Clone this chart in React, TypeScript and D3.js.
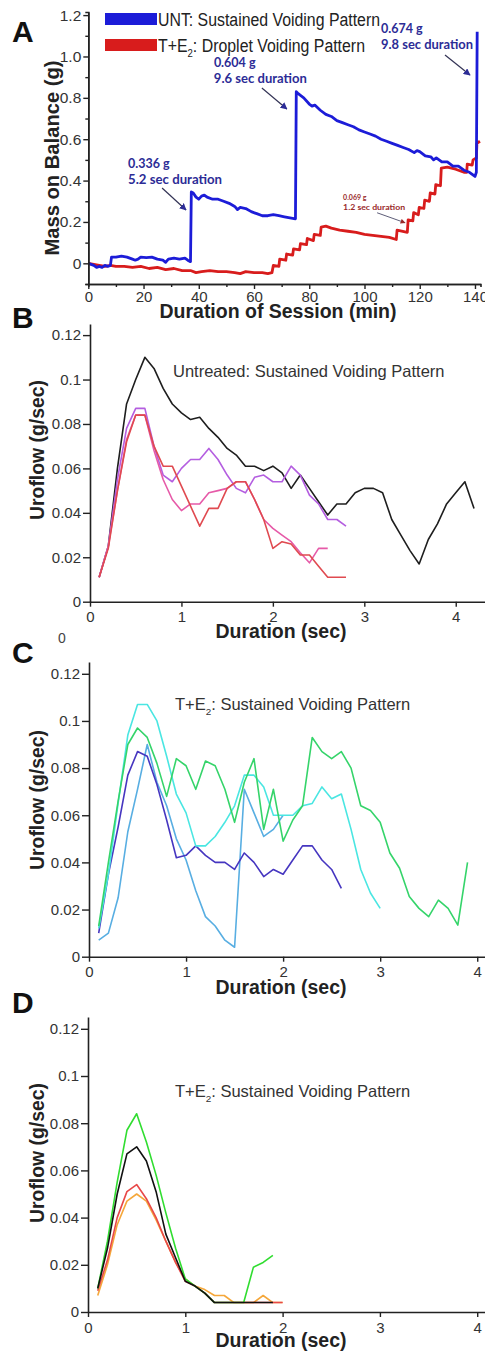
import React, { useRef, useEffect } from "react";
import * as d3 from "d3";

// ---------- panel A : mass on the balance during the session ----------
// [minute, grams]
const untMass: [number, number][] = [
  [0, 0.0], [1, -0.005], [2, -0.01], [3, -0.02], [4, -0.015], [5, -0.02], [6, -0.01], [7, -0.015],
  [8, -0.01], [8.4, 0.03], [10, 0.03], [12, 0.035], [14, 0.03], [16, 0.02], [17, 0.015], [18, 0.02],
  [19, 0.03], [21, 0.028], [23, 0.03], [25, 0.02], [27, 0.015], [28, 0.005], [29, 0.02], [31, 0.025],
  [33, 0.02], [35, 0.025], [36, 0.015], [37, 0.008], [37.3, 0.345], [38, 0.34], [39, 0.32], [40, 0.31],
  [41, 0.325], [42, 0.33], [43, 0.32], [45, 0.31], [47, 0.31], [49, 0.3], [51, 0.29], [53, 0.275],
  [54, 0.26], [55, 0.27], [57, 0.265], [59, 0.25], [61, 0.24], [63, 0.23], [65, 0.23], [67, 0.235],
  [69, 0.23], [71, 0.225], [73, 0.22], [75, 0.215], [75.3, 0.83], [76, 0.82], [78, 0.8], [80, 0.77],
  [81, 0.76], [82, 0.765], [84, 0.74], [86, 0.72], [88, 0.71], [90, 0.69], [92, 0.68], [94, 0.67],
  [96, 0.66], [98, 0.645], [100, 0.635], [102, 0.625], [104, 0.615], [106, 0.6], [108, 0.59],
  [110, 0.58], [112, 0.57], [114, 0.56], [116, 0.55], [118, 0.535], [119, 0.545], [120, 0.54],
  [122, 0.52], [124, 0.515], [125, 0.5], [126, 0.51], [128, 0.49], [130, 0.49], [132, 0.47],
  [134, 0.47], [136, 0.45], [138, 0.44], [139, 0.43], [140, 0.42], [140.5, 0.44], [140.8, 1.12],
];
const teMass: [number, number][] = [
  [0, 0.0], [2, -0.005], [4, -0.01], [6, -0.015], [8, -0.01], [10, -0.015], [13, -0.015], [16, -0.02],
  [19, -0.015], [22, -0.025], [25, -0.02], [28, -0.03], [31, -0.025], [34, -0.035], [37, -0.035],
  [39, -0.045], [41, -0.04], [44, -0.035], [47, -0.04], [50, -0.04], [53, -0.045], [55, -0.05],
  [57, -0.04], [60, -0.045], [63, -0.045], [65, -0.05], [66.5, -0.045], [67, -0.01], [69, -0.015],
  [69.3, 0.02], [71.5, 0.015], [71.8, 0.045], [74, 0.04], [74.3, 0.07], [76.5, 0.065], [76.8, 0.095],
  [79, 0.09], [79.3, 0.12], [81.5, 0.11], [81.8, 0.14], [84, 0.135], [84.3, 0.175], [86, 0.18],
  [88, 0.17], [91, 0.16], [94, 0.155], [97, 0.15], [100, 0.14], [103, 0.135], [106, 0.13],
  [109, 0.125], [111.5, 0.115], [111.8, 0.16], [115.5, 0.15], [115.8, 0.21], [117.5, 0.205],
  [117.8, 0.245], [119.5, 0.235], [119.8, 0.27], [121.5, 0.265], [121.8, 0.305], [123.5, 0.3],
  [123.8, 0.34], [125.5, 0.335], [125.8, 0.38], [127.5, 0.375], [127.8, 0.46], [130, 0.465],
  [133, 0.455], [136, 0.44], [137, 0.44], [137.2, 0.48], [139, 0.475], [139.3, 0.5], [140.5, 0.51],
  [140.7, 0.58], [141.8, 0.59],
];
const massTicks = [0, 0.2, 0.4, 0.6, 0.8, 1.0, 1.2];
const massMinorTicks = [-0.1, 0.1, 0.3, 0.5, 0.7, 0.9, 1.1];
const sessionTicks = [0, 20, 40, 60, 80, 100, 120, 140];
const sessionMinorTicks = [10, 30, 50, 70, 90, 110, 130];
const legendA = [
  { label: "UNT: Sustained Voiding Pattern", color: "#1c1cd8", width: 222 },
  { label: "T+E_2: Droplet Voiding Pattern", color: "#d81c1c", width: 207 },
];
// arrow tip in data units [minute, grams]
const voidNotes = [
  { mass: "0.336 g", dur: "5.2 sec duration", at: [35.4, 0.258], color: "#2c2c96", size: 12.5, w: 94, dx: -58, dy: -42, tail: [-24, -22] },
  { mass: "0.604 g", dur: "9.6 sec duration", at: [71.9, 0.746], color: "#2c2c96", size: 12.5, w: 93, dx: -73, dy: -42, tail: [-25, -21] },
  { mass: "0.674 g", dur: "9.8 sec duration", at: [138.2, 0.91], color: "#2c2c96", size: 12.5, w: 92, dx: -89, dy: -42, tail: [-25, -20] },
  { mass: "0.069 g", dur: "1.2 sec duration", at: [114.7, 0.196], color: "#9a2a2a", size: 7, w: 62, dx: -62, dy: -23, tail: [-28, -10] },
];

// ---------- panels B-D : uroflow, one sample every 0.1 sec ----------
const SAMPLE = 0.1;
const untFlowBlack = [0.011, 0.025, 0.06, 0.089, 0.1, 0.11, 0.105, 0.096, 0.089, 0.085, 0.082, 0.083, 0.078, 0.074, 0.069, 0.066, 0.061, 0.061, 0.059, 0.061, 0.058, 0.051, 0.057, 0.051, 0.045, 0.039, 0.044, 0.044, 0.049, 0.051, 0.051, 0.049, 0.037, 0.03, 0.023, 0.017, 0.028, 0.035, 0.044, 0.049, 0.054, 0.042];
const untFlowViolet = [0.011, 0.025, 0.055, 0.078, 0.087, 0.087, 0.07, 0.057, 0.054, 0.06, 0.064, 0.064, 0.069, 0.064, 0.057, 0.051, 0.049, 0.056, 0.057, 0.054, 0.054, 0.061, 0.057, 0.048, 0.044, 0.037, 0.037, 0.034];
const untFlowPink = [0.011, 0.025, 0.05, 0.073, 0.084, 0.084, 0.068, 0.055, 0.046, 0.041, 0.044, 0.044, 0.049, 0.05, 0.051, 0.054, 0.054, 0.046, 0.037, 0.033, 0.03, 0.027, 0.022, 0.0175, 0.024, 0.024];
const untFlowRed = [0.011, 0.024, 0.05, 0.072, 0.084, 0.084, 0.07, 0.061, 0.061, 0.052, 0.043, 0.034, 0.042, 0.042, 0.051, 0.054, 0.054, 0.046, 0.037, 0.024, 0.027, 0.026, 0.021, 0.021, 0.016, 0.011, 0.011, 0.011];

const teFlowIndigo = [0.01, 0.035, 0.055, 0.077, 0.087, 0.085, 0.073, 0.058, 0.042, 0.043, 0.047, 0.043, 0.04, 0.04, 0.037, 0.044, 0.04, 0.034, 0.037, 0.035, 0.041, 0.047, 0.047, 0.041, 0.037, 0.029];
const teFlowGreen = [0.013, 0.04, 0.066, 0.09, 0.097, 0.093, 0.082, 0.068, 0.084, 0.081, 0.071, 0.083, 0.081, 0.071, 0.057, 0.074, 0.084, 0.054, 0.071, 0.049, 0.058, 0.064, 0.093, 0.087, 0.084, 0.087, 0.08, 0.064, 0.062, 0.057, 0.044, 0.0375, 0.0255, 0.0205, 0.017, 0.024, 0.0205, 0.0134, 0.04];
const teFlowCyan = [0.012, 0.035, 0.065, 0.094, 0.107, 0.107, 0.1, 0.085, 0.069, 0.061, 0.047, 0.047, 0.051, 0.057, 0.064, 0.077, 0.077, 0.072, 0.06, 0.06, 0.06, 0.064, 0.065, 0.072, 0.067, 0.069, 0.054, 0.037, 0.027, 0.0205];
const teFlowSky = [0.007, 0.01, 0.025, 0.053, 0.071, 0.09, 0.074, 0.064, 0.05, 0.041, 0.028, 0.017, 0.013, 0.007, 0.004, 0.071, 0.061, 0.051, 0.054, 0.06];

const teDropGreen = [0.01, 0.03, 0.055, 0.077, 0.084, 0.072, 0.058, 0.042, 0.027, 0.014, 0.011, 0.008, 0.004, 0.004, 0.004, 0.004, 0.019, 0.021, 0.024];
const teDropBlack = [0.01, 0.027, 0.05, 0.067, 0.07, 0.064, 0.051, 0.033, 0.023, 0.013, 0.011, 0.008, 0.004, 0.004, 0.004, 0.004, 0.004, 0.004, 0.004];
const teDropRed = [0.009, 0.022, 0.04, 0.051, 0.054, 0.048, 0.04, 0.03, 0.021, 0.013, 0.011, 0.008, 0.004, 0.004, 0.004, 0.004, 0.004, 0.004, 0.004, 0.004];
const teDropOrange = [0.007, 0.02, 0.037, 0.047, 0.05, 0.047, 0.039, 0.03, 0.021, 0.014, 0.011, 0.0095, 0.007, 0.007, 0.004, 0.004, 0.004, 0.007, 0.004, 0.004];

const flowTicks = [0, 0.02, 0.04, 0.06, 0.08, 0.1, 0.12];
const durationTicks = [0, 1, 2, 3, 4];

const flowPanels = [
  {
    letter: "B", letterY: 328, left: 90, top: 324, bottom: 601.7, xMax: 4.32, titleY: 638, yTitleY: 450,
    note: "Untreated: Sustained Voiding Pattern", noteX: 173, noteY: 377,
    series: [
      { values: untFlowBlack, color: "#1e1e1e" },
      { values: untFlowViolet, color: "#b45ee0" },
      { values: untFlowPink, color: "#e65aa8" },
      { values: untFlowRed, color: "#e04a50" },
    ],
  },
  {
    letter: "C", letterY: 663, left: 89, top: 662, bottom: 956.7, xMax: 4.08, titleY: 994, yTitleY: 800,
    note: "T+E_2: Sustained Voiding Pattern", noteX: 175, noteY: 710,
    series: [
      { values: teFlowSky, color: "#58aee2" },
      { values: teFlowIndigo, color: "#4636c0" },
      { values: teFlowCyan, color: "#4ae6e2" },
      { values: teFlowGreen, color: "#35d46a" },
    ],
  },
  {
    letter: "D", letterY: 1013, left: 88, top: 1017, bottom: 1312, xMax: 4.08, titleY: 1347, yTitleY: 1153,
    note: "T+E_2: Sustained Voiding Pattern", noteX: 175, noteY: 1097,
    series: [
      { values: teDropOrange, color: "#f5a73a" },
      { values: teDropRed, color: "#e84848" },
      { values: teDropGreen, color: "#30dd30" },
      { values: teDropBlack, color: "#111111" },
    ],
  },
];

const FONT = "'Liberation Sans', Arial, Helvetica, sans-serif";
const AXIS = "#222";
const TICK_TEXT = "#333";

// "T+E_2: ..." -> subscript 2
function richText(t: any, str: string, size: number) {
  const parts = str.split("_");
  if (parts.length === 1) {
    t.text(str);
    return;
  }
  t.append("tspan").text(parts[0]);
  t.append("tspan").attr("font-size", size * 0.6).attr("dy", size * 0.3).text(parts[1][0]);
  t.append("tspan").attr("dy", -size * 0.3).text(parts[1].slice(1));
}

function styleAxis(g: any, size: number) {
  g.attr("font-size", size).attr("font-family", FONT);
  g.select(".domain").attr("stroke", AXIS).attr("stroke-width", 1.6);
  g.selectAll(".tick line").attr("stroke", AXIS).attr("stroke-width", 1.4);
  g.selectAll(".tick text").attr("fill", TICK_TEXT);
}

const App = () => {
  const ref = useRef<SVGSVGElement>(null);
  const width = 485;
  const height = 1351;

  useEffect(() => {
    const svg = d3.select(ref.current);
    svg.selectAll("*").remove();

    // ----- panel A -----
    const xA = d3.scaleLinear().domain([0, 142]).range([88.3, 480.5]);
    const yA = d3.scaleLinear().domain([-0.1, 1.215]).range([284, 12]);

    const massLine = d3
      .line<[number, number]>()
      .x((d) => xA(d[0]))
      .y((d) => yA(d[1]));

    svg.append("path").datum(teMass).attr("d", massLine).attr("fill", "none")
      .attr("stroke", "#d81c1c").attr("stroke-width", 2.8).attr("stroke-linejoin", "round");
    svg.append("path").datum(untMass).attr("d", massLine).attr("fill", "none")
      .attr("stroke", "#1c1cd8").attr("stroke-width", 2.8).attr("stroke-linejoin", "round");

    const ayMinor = svg.append("g").attr("transform", `translate(${xA(0)},0)`)
      .call(d3.axisLeft(yA).tickValues(massMinorTicks).tickSize(3).tickFormat(() => ""));
    styleAxis(ayMinor, 15);
    const ay = svg.append("g").attr("transform", `translate(${xA(0)},0)`)
      .call(d3.axisLeft(yA).tickValues(massTicks).tickSize(5).tickPadding(2).tickSizeOuter(0)
        .tickFormat((d: any) => (d === 0 ? "0" : d3.format(".1f")(d))));
    styleAxis(ay, 15.5);

    const axMinor = svg.append("g").attr("transform", `translate(0,${yA(-0.1)})`)
      .call(d3.axisBottom(xA).tickValues(sessionMinorTicks).tickSize(3).tickFormat(() => ""));
    styleAxis(axMinor, 15);
    const ax = svg.append("g").attr("transform", `translate(0,${yA(-0.1)})`)
      .call(d3.axisBottom(xA).tickValues(sessionTicks).tickSize(5).tickPadding(2).tickSizeOuter(0)
        .tickFormat(d3.format("d")));
    styleAxis(ax, 15);

    svg.append("text").attr("x", 12).attr("y", 42).attr("font-family", FONT).attr("font-weight", "bold")
      .attr("font-size", 30).attr("fill", "#111").text("A");

    svg.append("text").attr("transform", `translate(59,158) rotate(-90)`).attr("text-anchor", "middle")
      .attr("font-family", FONT).attr("font-weight", "bold").attr("font-size", 20).attr("fill", "#222")
      .attr("textLength", 195).attr("lengthAdjust", "spacingAndGlyphs").text("Mass on Balance (g)");
    svg.append("text").attr("x", 278).attr("y", 318).attr("text-anchor", "middle")
      .attr("font-family", FONT).attr("font-weight", "bold").attr("font-size", 20).attr("fill", "#222")
      .attr("textLength", 237).attr("lengthAdjust", "spacingAndGlyphs").text("Duration of Session (min)");

    // legend
    legendA.forEach((d, i) => {
      svg.append("rect").attr("x", 105).attr("y", 13 + i * 26).attr("width", 52).attr("height", 12)
        .attr("fill", d.color);
      const t = svg.append("text").attr("x", 158).attr("y", 26 + i * 26)
        .attr("font-family", "'Liberation Sans Narrow', " + FONT).attr("font-size", 18).attr("fill", "#222")
        .attr("textLength", d.width).attr("lengthAdjust", "spacingAndGlyphs");
      richText(t, d.label, 18);
    });

    // void annotations
    const defs = svg.append("defs");
    voidNotes.forEach((n, i) => {
      const id = `arrow${i}`;
      defs.append("marker").attr("id", id).attr("viewBox", "0 0 10 10").attr("refX", 9).attr("refY", 5)
        .attr("markerWidth", n.size > 10 ? 7 : 5).attr("markerHeight", n.size > 10 ? 7 : 5)
        .attr("markerUnits", "userSpaceOnUse").attr("orient", "auto")
        .append("path").attr("d", "M0,0 L10,5 L0,10 z").attr("fill", n.color);
      const tx = xA(n.at[0]);
      const ty = yA(n.at[1]);
      svg.append("line").attr("x1", tx + n.tail[0]).attr("y1", ty + n.tail[1]).attr("x2", tx).attr("y2", ty)
        .attr("stroke", "#333355").attr("stroke-width", n.size > 10 ? 1.2 : 0.8).attr("marker-end", `url(#${id})`);
      const g = svg.append("text").attr("font-family", "Lato, 'Open Sans', sans-serif").attr("font-weight", "bold")
        .attr("font-size", n.size).attr("fill", n.color);
      g.append("tspan").attr("x", tx + n.dx).attr("y", ty + n.dy).text(n.mass);
      g.append("tspan").attr("x", tx + n.dx).attr("y", ty + n.dy + (n.size > 10 ? 16 : 10))
        .attr("textLength", n.w).attr("lengthAdjust", "spacingAndGlyphs").text(n.dur);
    });

    // ----- panels B-D -----
    flowPanels.forEach((p) => {
      const x = d3.scaleLinear().domain([0, p.xMax]).range([p.left, width]);
      const y = d3.scaleLinear().domain([0, 0.125]).range([p.bottom, p.top]);
      const line = d3
        .line<number>()
        .x((_, i) => x((i + 1) * SAMPLE))
        .y((d) => y(d));

      p.series.forEach((s) => {
        svg.append("path").datum(s.values).attr("d", line).attr("fill", "none")
          .attr("stroke", s.color).attr("stroke-width", 1.6).attr("stroke-linejoin", "round");
      });

      const gy = svg.append("g").attr("transform", `translate(${p.left},0)`)
        .call(d3.axisLeft(y).tickValues(flowTicks).tickSize(7).tickPadding(2).tickSizeOuter(0)
          .tickFormat((d: any) => String(+(+d).toFixed(2))));
      styleAxis(gy, 15);
      const gx = svg.append("g").attr("transform", `translate(0,${p.bottom})`)
        .call(d3.axisBottom(x).tickValues(durationTicks).tickSize(5).tickPadding(5).tickSizeOuter(0)
          .tickFormat(d3.format("d")));
      styleAxis(gx, 15);

      svg.append("text").attr("x", 12).attr("y", p.letterY).attr("font-family", FONT).attr("font-weight", "bold")
        .attr("font-size", 30).attr("fill", "#111").text(p.letter);

      svg.append("text").attr("transform", `translate(44,${p.yTitleY}) rotate(-90)`).attr("text-anchor", "middle")
        .attr("font-family", FONT).attr("font-weight", "bold").attr("font-size", 19.5).attr("fill", "#222")
        .attr("textLength", 140).attr("lengthAdjust", "spacingAndGlyphs").text("Uroflow (g/sec)");
      svg.append("text").attr("x", 281).attr("y", p.titleY).attr("text-anchor", "middle")
        .attr("font-family", FONT).attr("font-weight", "bold").attr("font-size", 19.5).attr("fill", "#222")
        .attr("textLength", 131).attr("lengthAdjust", "spacingAndGlyphs").text("Duration (sec)");

      const note = svg.append("text").attr("x", p.noteX).attr("y", p.noteY)
        .attr("font-family", FONT).attr("font-size", 16.5).attr("fill", "#333");
      richText(note, p.note, 16.5);
    });

    // stray tick label left under panel B
    svg.append("text").attr("x", 58).attr("y", 643).attr("font-family", FONT).attr("font-size", 14)
      .attr("fill", "#444").text("0");
  }, []);

  return (
    <svg
      ref={ref}
      width={width}
      height={height}
      style={{ position: "absolute", left: 0, top: 0, background: "#fff" }}
    />
  );
};

export default App;
